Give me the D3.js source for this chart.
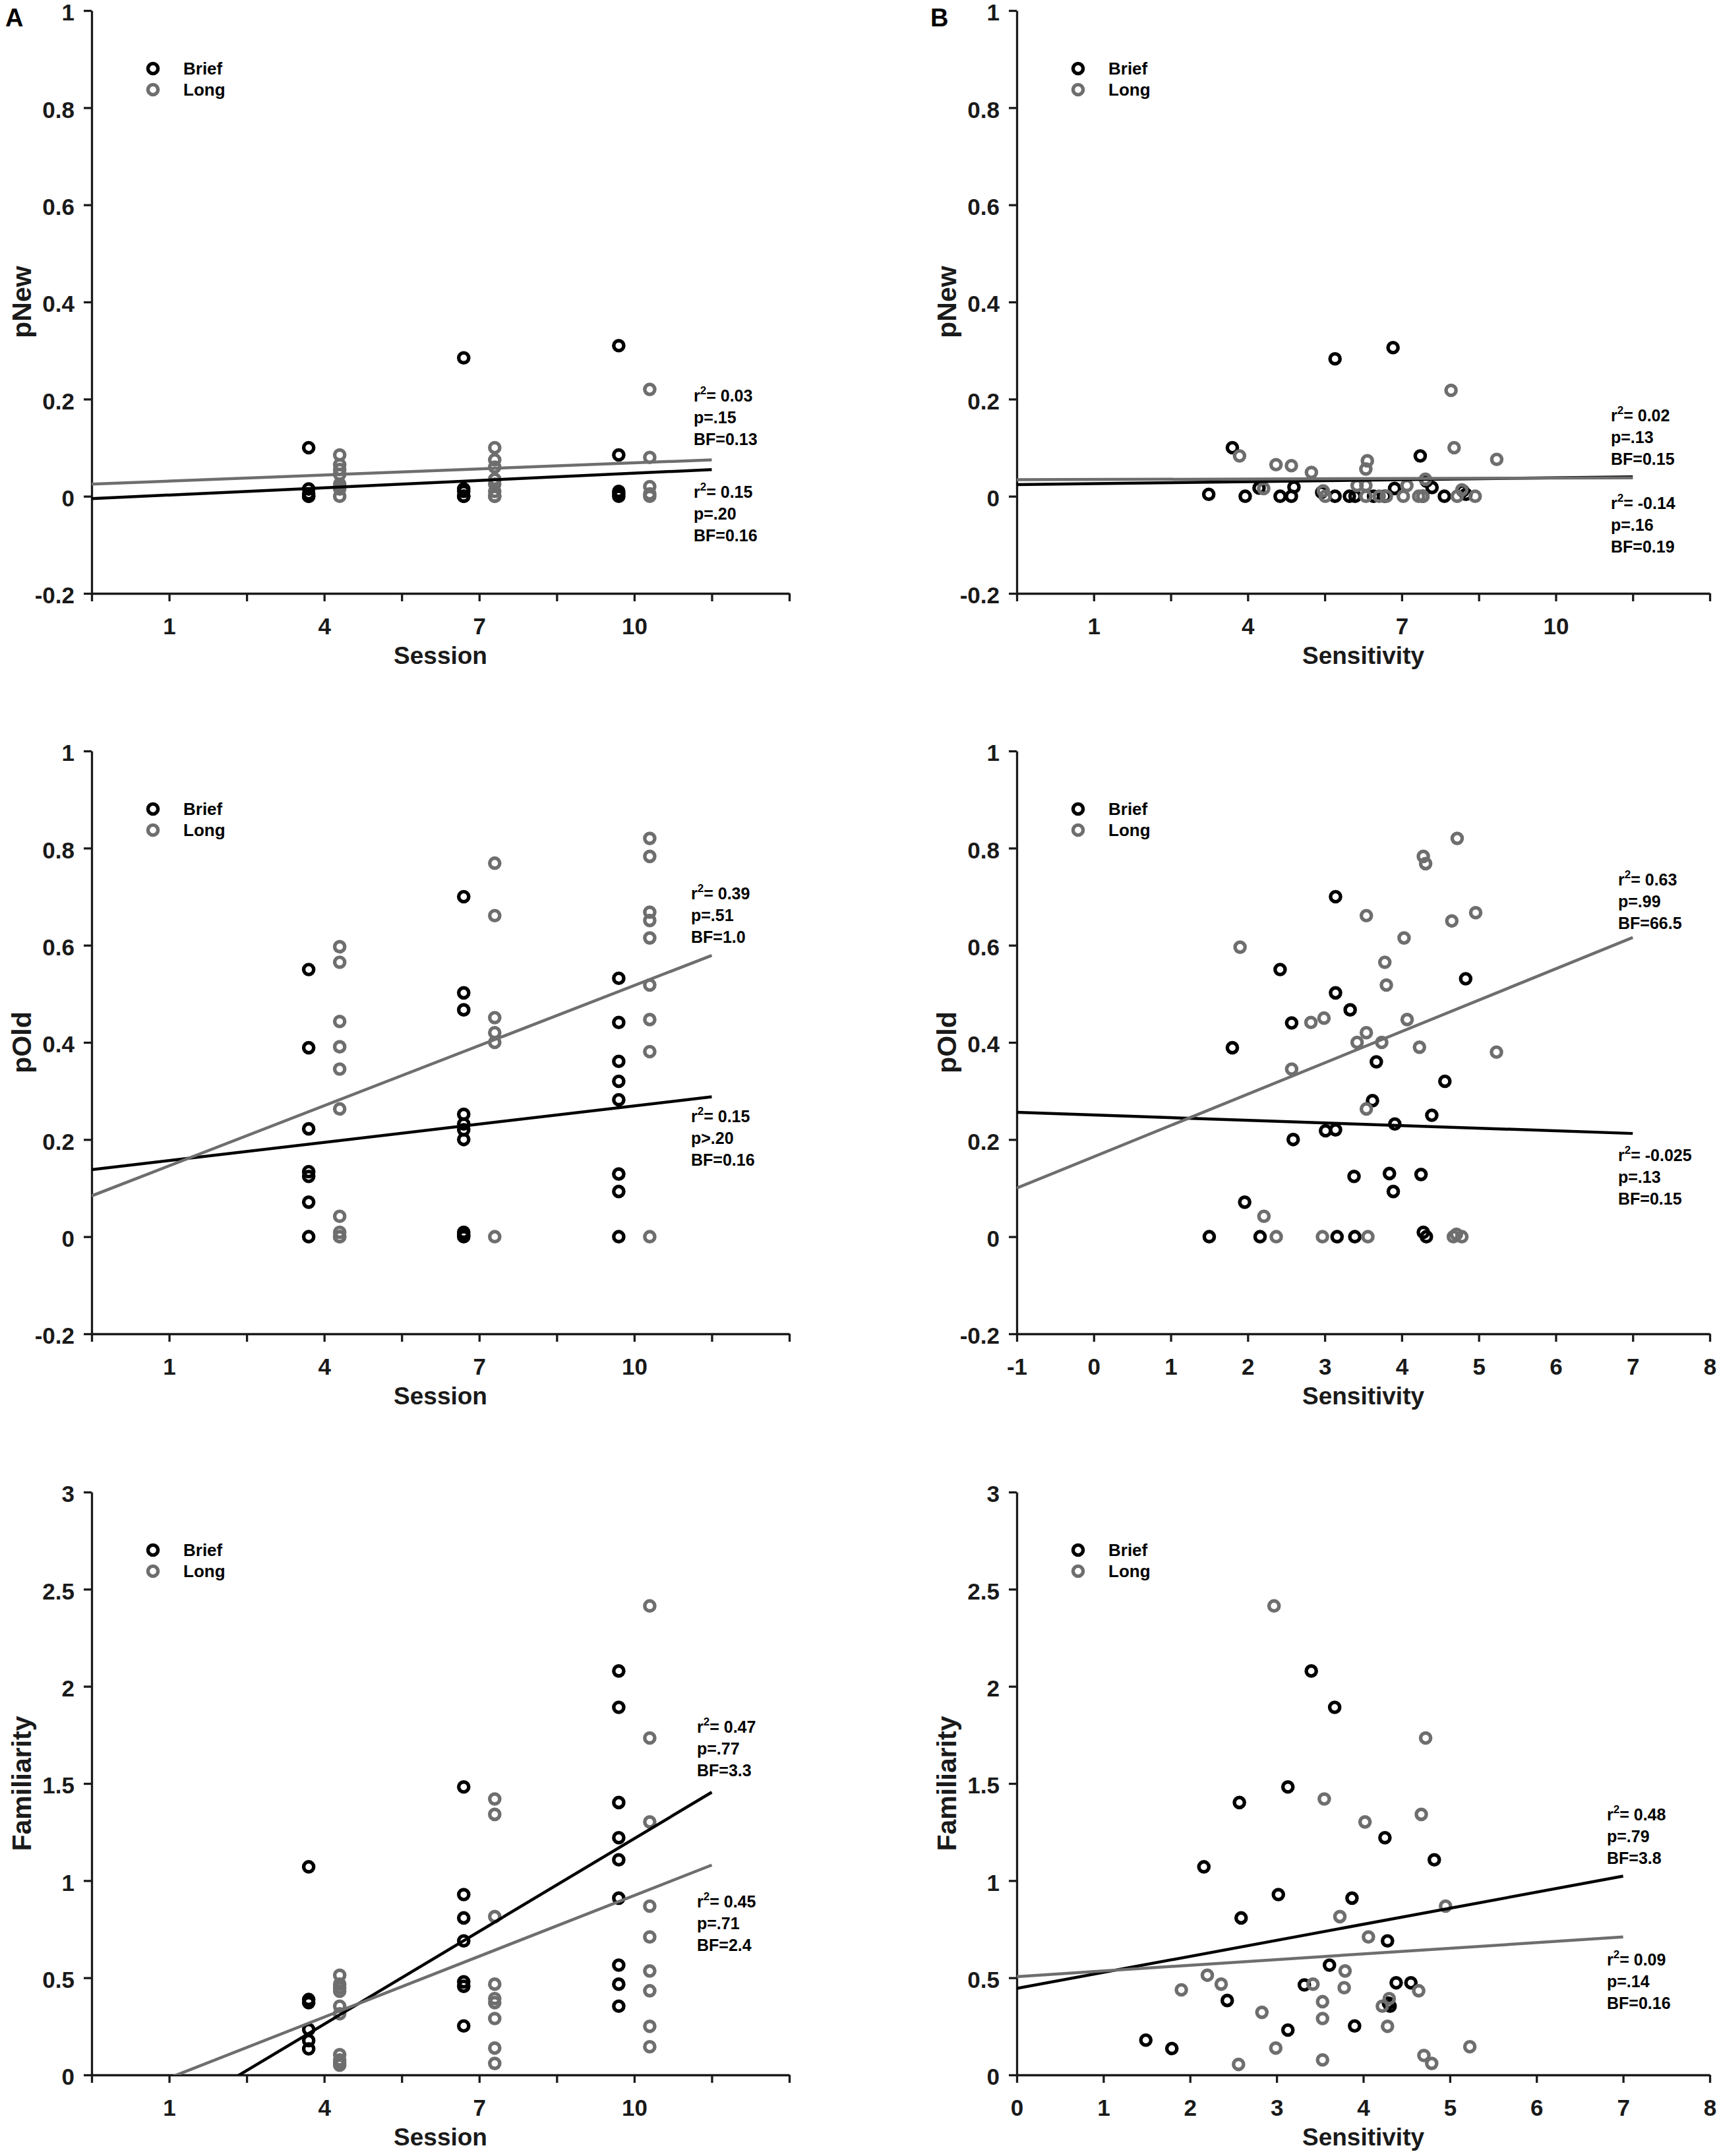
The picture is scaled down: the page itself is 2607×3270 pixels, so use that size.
<!DOCTYPE html>
<html>
  <head>
    <meta charset="utf-8">
    <script src="https://d3js.org/d3.v7.min.js"></script>
    <title>pNew / pOld / Familiarity by Session and Sensitivity</title>
    <style>
      body { margin: 0; background: #fff; }
      text { font-family: 'Liberation Sans', Arial, sans-serif; font-weight: bold; }
    </style>
  </head>
  <body>
    <svg width="2607" height="3270"></svg>
    <script>
      // ---- data ----
      const sessionXBrief = [3.7, 6.7, 9.7];
      const sessionXLong = [4.3, 7.3, 10.3];

      const pNewBrief = [[0.10, 0.015, 0.005, 0, 0], [0.285, 0.015, 0.01, 0, 0], [0.31, 0.085, 0.01, 0.005, 0]];
      const pNewLong = [[0.085, 0.065, 0.055, 0.045, 0.025, 0.02, 0.015, 0], [0.10, 0.075, 0.06, 0.035, 0.025, 0.01, 0, 0], [0.22, 0.08, 0.02, 0.005, 0]];

      const pOldBrief = [[0.55, 0.389, 0.222, 0.134, 0.124, 0.071, 0], [0.70, 0.502, 0.467, 0.252, 0.232, 0.22, 0.20, 0.009, 0.003, 0], [0.532, 0.441, 0.361, 0.32, 0.282, 0.129, 0.093, 0]];
      const pOldLong = [[0.597, 0.565, 0.443, 0.391, 0.345, 0.263, 0.042, 0.009, 0, 0], [0.769, 0.661, 0.451, 0.42, 0.40, 0], [0.82, 0.783, 0.668, 0.651, 0.615, 0.518, 0.447, 0.381, 0]];

      const famBrief = [[1.071, 0.388, 0.372, 0.234, 0.177, 0.134], [1.482, 0.928, 0.808, 0.69, 0.479, 0.456, 0.252], [2.079, 1.892, 1.402, 1.221, 1.107, 0.91, 0.565, 0.467, 0.354]];
      const famLong = [[0.513, 0.467, 0.449, 0.431, 0.354, 0.315, 0.104, 0.077, 0.062, 0.05], [1.42, 1.341, 0.815, 0.467, 0.393, 0.372, 0.29, 0.138, 0.059], [2.414, 1.734, 1.302, 0.869, 0.71, 0.535, 0.433, 0.25, 0.145]];

      // sensitivity panels: [sensitivity, value]
      const sensNewBrief = [[3.24, 0.004], [3.70, 0.10], [3.95, 0], [4.22, 0.017], [4.63, 0], [4.85, 0], [4.90, 0.019], [5.44, 0.008], [5.70, 0.283], [5.70, 0], [5.98, 0], [6.09, 0], [6.45, 0], [6.67, 0], [6.83, 0.306], [6.86, 0.016], [7.36, 0.083], [7.41, 0], [7.48, 0.031], [7.59, 0.018], [7.83, 0], [8.19, 0.011], [8.25, 0.004]];
      const sensNewLong = [[3.84, 0.083], [4.31, 0.016], [4.55, 0.065], [4.85, 0.063], [5.24, 0.049], [5.47, 0.011], [5.51, 0], [6.13, 0.022], [6.30, 0.056], [6.33, 0.073], [6.30, 0.022], [6.30, 0], [6.56, 0], [6.70, 0], [7.03, 0], [7.10, 0.022], [7.33, 0], [7.46, 0.035], [7.41, 0], [7.96, 0.218], [8.02, 0.10], [8.08, 0], [8.17, 0.013], [8.43, 0], [8.85, 0.076]];

      const sensOldBrief = [[1.50, 0], [1.80, 0.389], [1.96, 0.071], [2.16, 0], [2.42, 0.55], [2.57, 0.44], [2.59, 0.20], [3.01, 0.218], [3.14, 0.22], [3.14, 0.70], [3.14, 0.502], [3.16, 0], [3.33, 0.467], [3.38, 0.124], [3.39, 0], [3.62, 0.28], [3.67, 0.36], [3.84, 0.13], [3.89, 0.093], [3.91, 0.232], [4.25, 0.128], [4.28, 0.009], [4.32, 0], [4.39, 0.25], [4.56, 0.32], [4.83, 0.531]];
      const sensOldLong = [[1.90, 0.596], [2.21, 0.042], [2.37, 0], [2.57, 0.345], [2.82, 0.441], [2.99, 0.45], [2.97, 0], [3.42, 0.40], [3.54, 0.42], [3.54, 0.661], [3.54, 0.263], [3.56, 0], [3.74, 0.40], [3.78, 0.565], [3.80, 0.518], [4.03, 0.615], [4.07, 0.447], [4.23, 0.39], [4.28, 0.783], [4.31, 0.768], [4.65, 0.65], [4.71, 0.005], [4.67, 0], [4.78, 0], [4.72, 0.82], [4.96, 0.667], [5.23, 0.38]];

      const sensFamBrief = [[1.49, 0.179], [1.79, 0.136], [2.16, 1.071], [2.43, 0.383], [2.57, 1.402], [2.59, 0.808], [3.02, 0.928], [3.13, 1.482], [3.13, 0.231], [3.32, 0.463], [3.40, 2.079], [3.61, 0.565], [3.67, 1.892], [3.87, 0.91], [3.90, 0.252], [4.25, 1.221], [4.28, 0.69], [4.31, 0.354], [4.29, 0.37], [4.38, 0.474], [4.55, 0.474], [4.82, 1.107]];
      const sensFamLong = [[1.90, 0.438], [2.20, 0.513], [2.36, 0.467], [2.56, 0.054], [2.83, 0.322], [2.97, 2.414], [2.99, 0.138], [3.42, 0.467], [3.53, 0.377], [3.53, 0.29], [3.53, 0.077], [3.55, 1.42], [3.73, 0.815], [3.78, 0.449], [3.79, 0.535], [4.02, 1.302], [4.06, 0.71], [4.22, 0.354], [4.28, 0.25], [4.30, 0.393], [4.64, 0.433], [4.67, 1.341], [4.70, 0.10], [4.72, 1.734], [4.79, 0.059], [4.95, 0.869], [5.23, 0.145]];

      // fitted lines: x range and the y value at each end
      const fitXSession = [-0.5, 11.5];
      const fitXSensNew = [-0.5, 11.5];
      const fitXSensOld = [-1, 7];
      const fitXSensFam = [0, 7];
      const fitNew = { brief: [-0.005, 0.055], long: [0.025, 0.075] };
      const fitSensNew = { brief: [0.024, 0.040], long: [0.034, 0.038] };
      const fitOld = { brief: [0.138, 0.288], long: [0.084, 0.579] };
      const fitSensOld = { brief: [0.256, 0.2125], long: [0.10, 0.616] };
      const fitFam = { brief: [-0.455, 1.455], long: [-0.172, 1.08] };
      const fitSensFam = { brief: [0.445, 1.023], long: [0.506, 0.71] };

      // ticks
      const sessionTicks = [-0.5, 1, 2.5, 4, 5.5, 7, 8.5, 10, 11.5, 13];
      const sessionTickLabels = ['', '1', '', '4', '', '7', '', '10', '', ''];
      const sensOldTicks = [-1, 0, 1, 2, 3, 4, 5, 6, 7, 8];
      const sensFamTicks = [0, 1, 2, 3, 4, 5, 6, 7, 8];
      const propTicks = [-0.2, 0, 0.2, 0.4, 0.6, 0.8, 1];
      const propTickLabels = ['-0.2', '0', '0.2', '0.4', '0.6', '0.8', '1'];
      const famTicks = [0, 0.5, 1, 1.5, 2, 2.5, 3];
      const famTickLabels = ['0', '0.5', '1', '1.5', '2', '2.5', '3'];

      const groupNames = ['Brief', 'Long'];

      // stats text: [r2, p, BF] for the upper and lower block
      const statsNew = [['0.03', 'p=.15', 'BF=0.13'], ['0.15', 'p=.20', 'BF=0.16']];
      const statsSensNew = [['0.02', 'p=.13', 'BF=0.15'], ['-0.14', 'p=.16', 'BF=0.19']];
      const statsOld = [['0.39', 'p=.51', 'BF=1.0'], ['0.15', 'p>.20', 'BF=0.16']];
      const statsSensOld = [['0.63', 'p=.99', 'BF=66.5'], ['-0.025', 'p=.13', 'BF=0.15']];
      const statsFam = [['0.47', 'p=.77', 'BF=3.3'], ['0.45', 'p=.71', 'BF=2.4']];
      const statsSensFam = [['0.48', 'p=.79', 'BF=3.8'], ['0.09', 'p=.14', 'BF=0.16']];

      // ---- build points from grouped session data ----
      const bySession = (groups, xs) => groups.flatMap((vals, i) => vals.map(v => [xs[i], v]));

      // ---- layout ----
      const colLeft = [139, 1542];
      const colRight = [1197, 2593];
      const rowTop = [16, 1139, 2263];
      const rowBottom = [900, 2023, 3147];
      const colors = { brief: '#000000', long: '#6e6e6e' };

      const panels = [
        { col: 0, row: 0, letter: 'A', xDomain: [-0.5, 13], xTicks: sessionTicks, xTickLabels: sessionTickLabels,
          yDomain: [-0.2, 1], yTicks: propTicks, yTickLabels: propTickLabels, xLabel: 'Session', yLabel: 'pNew',
          brief: bySession(pNewBrief, sessionXBrief), long: bySession(pNewLong, sessionXLong),
          fitX: fitXSession, fit: fitNew, stats: statsNew, statPos: [[913, 593], [913, 739]] },
        { col: 1, row: 0, letter: 'B', xDomain: [-0.5, 13], xTicks: sessionTicks, xTickLabels: sessionTickLabels,
          yDomain: [-0.2, 1], yTicks: propTicks, yTickLabels: propTickLabels, xLabel: 'Sensitivity', yLabel: 'pNew',
          brief: sensNewBrief, long: sensNewLong,
          fitX: fitXSensNew, fit: fitSensNew, stats: statsSensNew, statPos: [[901, 623], [901, 756]] },
        { col: 0, row: 1, xDomain: [-0.5, 13], xTicks: sessionTicks, xTickLabels: sessionTickLabels,
          yDomain: [-0.2, 1], yTicks: propTicks, yTickLabels: propTickLabels, xLabel: 'Session', yLabel: 'pOld',
          brief: bySession(pOldBrief, sessionXBrief), long: bySession(pOldLong, sessionXLong),
          fitX: fitXSession, fit: fitOld, stats: statsOld, statPos: [[909, 225], [909, 563]] },
        { col: 1, row: 1, xDomain: [-1, 8], xTicks: sensOldTicks, xTickLabels: sensOldTicks.map(String),
          yDomain: [-0.2, 1], yTicks: propTicks, yTickLabels: propTickLabels, xLabel: 'Sensitivity', yLabel: 'pOld',
          brief: sensOldBrief, long: sensOldLong,
          fitX: fitXSensOld, fit: fitSensOld, stats: statsSensOld, statPos: [[912, 204], [912, 622]] },
        { col: 0, row: 2, xDomain: [-0.5, 13], xTicks: sessionTicks, xTickLabels: sessionTickLabels,
          yDomain: [0, 3], yTicks: famTicks, yTickLabels: famTickLabels, xLabel: 'Session', yLabel: 'Familiarity',
          brief: bySession(famBrief, sessionXBrief), long: bySession(famLong, sessionXLong),
          fitX: fitXSession, fit: fitFam, stats: statsFam, statPos: [[918, 365], [918, 630]] },
        { col: 1, row: 2, xDomain: [0, 8], xTicks: sensFamTicks, xTickLabels: sensFamTicks.map(String),
          yDomain: [0, 3], yTicks: famTicks, yTickLabels: famTickLabels, xLabel: 'Sensitivity', yLabel: 'Familiarity',
          brief: sensFamBrief, long: sensFamLong,
          fitX: fitXSensFam, fit: fitSensFam, stats: statsSensFam, statPos: [[895, 498], [895, 718]] }
      ];

      const svg = d3.select('svg');
      svg.append('rect').attr('width', 2607).attr('height', 3270).attr('fill', '#fff');

      panels.forEach((p, i) => {
        const x0 = colLeft[p.col], x1 = colRight[p.col];
        const y0 = rowTop[p.row], y1 = rowBottom[p.row];
        const xScale = d3.scaleLinear().domain(p.xDomain).range([x0, x1]);
        const yScale = d3.scaleLinear().domain(p.yDomain).range([y1, y0]);
        const g = svg.append('g');

        // clip for the fitted lines
        const clipId = 'clip' + i;
        svg.append('clipPath').attr('id', clipId)
          .append('rect').attr('x', x0).attr('y', y0).attr('width', x1 - x0).attr('height', y1 - y0);

        // axes
        const xAxis = d3.axisBottom(xScale).tickValues(p.xTicks)
          .tickFormat((d, k) => p.xTickLabels[k]).tickSize(12).tickSizeOuter(0).tickPadding(25);
        const yAxis = d3.axisLeft(yScale).tickValues(p.yTicks)
          .tickFormat((d, k) => p.yTickLabels[k]).tickSize(12).tickSizeOuter(0).tickPadding(14);

        const gx = g.append('g').attr('transform', `translate(0,${y1})`).call(xAxis);
        const gy = g.append('g').attr('transform', `translate(${x0},0)`).call(yAxis);
        [gx, gy].forEach(a => {
          a.select('.domain').attr('stroke', '#1a1a1a').attr('stroke-width', 3.3);
          a.selectAll('.tick line').attr('stroke', '#1a1a1a').attr('stroke-width', 3.3);
          a.selectAll('.tick text').attr('fill', '#1a1a1a').style('font-size', '35px')
            .style('font-family', "'Liberation Sans', Arial, sans-serif").style('font-weight', 'bold');
        });
        // y labels sit a little below their ticks, as in the original
        gy.selectAll('.tick text').attr('dy', '0.42em');

        // axis labels
        g.append('text').attr('x', (x0 + x1) / 2).attr('y', y1 + 107)
          .attr('text-anchor', 'middle').style('font-size', '37px').attr('fill', '#1a1a1a').text(p.xLabel);
        g.append('text').attr('transform', `translate(${x0 - 92},${(y0 + y1) / 2}) rotate(-90)`)
          .attr('text-anchor', 'middle').style('font-size', '41px').attr('fill', '#1a1a1a').text(p.yLabel);

        // panel letter
        if (p.letter) {
          g.append('text').attr('x', x0 - 131).attr('y', 40)
            .style('font-size', '38px').attr('fill', '#000').text(p.letter);
        }

        // points: brief first, long on top
        [['brief', p.brief], ['long', p.long]].forEach(([key, pts]) => {
          g.append('g').selectAll('circle').data(pts).enter().append('circle')
            .attr('cx', d => xScale(d[0]))
            .attr('cy', d => yScale(d[1]))
            .attr('r', 7.6)
            .attr('fill', 'none')
            .attr('stroke', colors[key])
            .attr('stroke-width', 5.4);
        });

        // fitted lines
        const line = d3.line().x(d => xScale(d[0])).y(d => yScale(d[1]));
        ['brief', 'long'].forEach(key => {
          g.append('path')
            .datum([[p.fitX[0], p.fit[key][0]], [p.fitX[1], p.fit[key][1]]])
            .attr('d', line)
            .attr('clip-path', `url(#${clipId})`)
            .attr('fill', 'none')
            .attr('stroke', colors[key])
            .attr('stroke-width', 4.5);
        });

        // legend
        groupNames.forEach((name, k) => {
          const ly = y0 + 88 + k * 32;
          g.append('circle').attr('cx', x0 + 93).attr('cy', ly).attr('r', 7.6)
            .attr('fill', 'none').attr('stroke', k === 0 ? colors.brief : colors.long).attr('stroke-width', 5.4);
          g.append('text').attr('x', x0 + 139).attr('y', ly + 9)
            .style('font-size', '26px').attr('fill', '#000').text(name);
        });

        // stats blocks
        p.stats.forEach((block, b) => {
          const sx = x0 + p.statPos[b][0];
          const sy = y0 + p.statPos[b][1];
          const t = g.append('text').attr('x', sx).attr('y', sy).style('font-size', '25px').attr('fill', '#000');
          t.append('tspan').text('r');
          t.append('tspan').attr('dy', -11).style('font-size', '17px').text('2');
          t.append('tspan').attr('dy', 11).text('= ' + block[0]);
          g.append('text').attr('x', sx).attr('y', sy + 33).style('font-size', '25px').attr('fill', '#000').text(block[1]);
          g.append('text').attr('x', sx).attr('y', sy + 66).style('font-size', '25px').attr('fill', '#000').text(block[2]);
        });
      });
    </script>
  </body>
</html>
